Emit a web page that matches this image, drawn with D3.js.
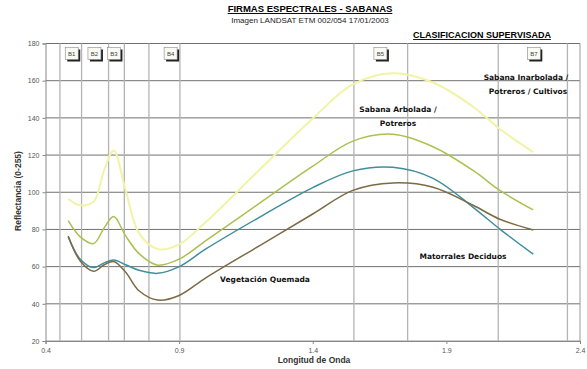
<!DOCTYPE html>
<html>
<head>
<meta charset="utf-8">
<script src="https://cdn.jsdelivr.net/npm/d3@7"></script>
<style>
  body { margin: 0; background: #fff; }
  svg { display: block; }
  .tick text { font-family: "Liberation Sans", Arial, sans-serif; font-size: 7px; fill: #555; }
  .lbl { font-family: "DejaVu Sans", sans-serif; font-size: 7.5px; font-weight: bold; fill: #111; }
</style>
</head>
<body>
<div id="chart"></div>
<script>
// longitudes de onda (um) comunes a todas las curvas
const wavelengths = [0.485, 0.53, 0.58, 0.62, 0.655, 0.70, 0.75, 0.82, 0.90, 1.0, 1.2, 1.4, 1.55, 1.7, 1.85, 2.0, 2.1, 2.225];

// reflectancia (0-255) de cada clase
const sabanaInarbolada = [96.4, 93, 95, 112, 122.5, 101, 78, 69.4, 72, 84, 112, 139.7, 158, 164, 159, 146, 134, 121.6];
const sabanaArbolada   = [84.7, 76, 72.4, 81, 86.9, 76.5, 67, 60.8, 64, 74, 94, 114, 127.5, 131.2, 124.5, 111.7, 101, 90.5];
const matorrales       = [76, 64, 59.5, 62, 63.6, 61, 58, 56.4, 60, 69.5, 86.5, 102.5, 111.5, 113.4, 107.5, 91.9, 80.2, 66.7];
const vegQuemada       = [76.5, 63, 57.5, 61, 62.7, 57, 47, 42, 44.5, 54, 71.2, 88.3, 101, 105, 102.7, 93, 85.5, 79.7];

const seriesNames  = ["Sabana Inarbolada", "Sabana Arbolada", "Matorrales Deciduos", "Vegetación Quemada"];
const seriesColors = ["#f0f4a4", "#a9c14e", "#3f8f9b", "#7b6a42"];

// bandas Landsat: limites y etiquetas
const bandLines = [0.454, 0.535, 0.636, 0.695, 0.787, 0.903, 1.554, 1.755, 2.094, 2.353];
const bandNames = ["B1", "B2", "B3", "B4", "B5", "B7"];
const bandCenters = [0.5, 0.585, 0.658, 0.87, 1.655, 2.229];

const xTicks = [0.4, 0.9, 1.4, 1.9, 2.4];
const yTicks = [20, 40, 60, 80, 100, 120, 140, 160, 180];

const width = 587, height = 369;
const margin = { top: 43.5, right: 7, bottom: 28, left: 45.5 };

const svg = d3.select("#chart").append("svg")
  .attr("width", width)
  .attr("height", height);

const x = d3.scaleLinear().domain([0.4, 2.4]).range([margin.left, width - margin.right]);
const y = d3.scaleLinear().domain([20, 180]).range([height - margin.bottom, margin.top]);

// titulos
svg.append("text")
  .attr("x", 310).attr("y", 12)
  .attr("text-anchor", "middle")
  .style("font-family", "Liberation Sans, Arial, sans-serif")
  .style("font-size", "9.5px").style("font-weight", "bold")
  .style("text-decoration", "underline")
  .text("FIRMAS ESPECTRALES - SABANAS");

svg.append("text")
  .attr("x", 310).attr("y", 23)
  .attr("text-anchor", "middle")
  .style("font-family", "Liberation Sans, Arial, sans-serif")
  .style("font-size", "8px")
  .attr("fill", "#222")
  .text("Imagen LANDSAT ETM 002/054 17/01/2003");

svg.append("text")
  .attr("x", 482).attr("y", 38)
  .attr("text-anchor", "middle")
  .style("font-family", "Liberation Sans Narrow, Liberation Sans, Arial, sans-serif")
  .style("font-size", "9px").style("font-weight", "bold")
  .style("text-decoration", "underline")
  .text("CLASIFICACION SUPERVISADA");

// cuadricula horizontal
svg.append("g")
  .selectAll("line")
  .data(yTicks)
  .join("line")
  .attr("x1", x(0.4)).attr("x2", x(2.4))
  .attr("y1", d => y(d)).attr("y2", d => y(d))
  .attr("stroke", d => d === 20 ? "#999" : "#707070")
  .attr("stroke-width", 1);

// limites de bandas
svg.append("g")
  .selectAll("line")
  .data(bandLines)
  .join("line")
  .attr("x1", d => x(d)).attr("x2", d => x(d))
  .attr("y1", y(180)).attr("y2", y(20))
  .attr("stroke", "#b4b4b4")
  .attr("stroke-width", 1.3);

// borde derecho
svg.append("line")
  .attr("x1", x(2.4)).attr("x2", x(2.4))
  .attr("y1", y(180)).attr("y2", y(20))
  .attr("stroke", "#999");

// ejes
const xAxis = svg.append("g")
  .attr("transform", `translate(0,${y(20)})`)
  .call(d3.axisBottom(x).tickValues(xTicks).tickSize(3).tickFormat(d3.format(".1f")));
xAxis.select(".domain").attr("stroke", "#888");
xAxis.selectAll(".tick line").attr("stroke", "#888");
xAxis.selectAll(".tick text").attr("dy", "0.9em");

const yAxis = svg.append("g")
  .attr("transform", `translate(${x(0.4)},0)`)
  .call(d3.axisLeft(y).tickValues(yTicks).tickSize(3));
yAxis.select(".domain").attr("stroke", "#888");
yAxis.selectAll(".tick line").attr("stroke", "#888");

svg.append("text")
  .attr("x", 314).attr("y", 363)
  .attr("text-anchor", "middle")
  .style("font-family", "Liberation Sans, Arial, sans-serif")
  .style("font-size", "8.5px").style("font-weight", "bold")
  .attr("fill", "#333")
  .text("Longitud de Onda");

svg.append("text")
  .attr("transform", "translate(21,191) rotate(-90)")
  .attr("text-anchor", "middle")
  .style("font-family", "Liberation Sans, Arial, sans-serif")
  .style("font-size", "8.5px").style("font-weight", "bold")
  .attr("fill", "#333")
  .text("Reflectancia (0-255)");

// curvas suavizadas
const allSeries = [sabanaInarbolada, sabanaArbolada, matorrales, vegQuemada];
const line = d3.line()
  .x((d, i) => x(wavelengths[i]))
  .y(d => y(d))
  .curve(d3.curveCatmullRom.alpha(0.5));

svg.append("g")
  .selectAll("path")
  .data(allSeries)
  .join("path")
  .attr("d", line)
  .attr("fill", "none")
  .attr("stroke", (d, i) => seriesColors[i])
  .attr("stroke-width", (d, i) => i === 0 ? 2 : 1.5)
  .append("title").text((d, i) => seriesNames[i]);

// cajas de bandas
const bandG = svg.append("g")
  .selectAll("g")
  .data(bandNames)
  .join("g")
  .attr("transform", (d, i) => `translate(${x(bandCenters[i])},${y(180) + 10})`);

bandG.append("rect")
  .attr("x", -5).attr("y", -4)
  .attr("width", 13).attr("height", 12)
  .attr("fill", "#222");
bandG.append("rect")
  .attr("x", -7).attr("y", -6)
  .attr("width", 13).attr("height", 12)
  .attr("fill", "#fafaf5")
  .attr("stroke", "#888").attr("stroke-width", 0.6);
bandG.append("text")
  .attr("x", -0.5).attr("y", 2.5)
  .attr("text-anchor", "middle")
  .style("font-family", "Liberation Sans, Arial, sans-serif")
  .style("font-size", "6px")
  .attr("fill", "#444")
  .text(d => d);

// etiquetas de las clases
const labels = [
  { t: "Sabana Inarbolada /", x: 526, y: 80 },
  { t: "Potreros / Cultivos", x: 528, y: 94 },
  { t: "Sabana Arbolada /", x: 398, y: 112 },
  { t: "Potreros", x: 398, y: 126 },
  { t: "Vegetación Quemada", x: 265, y: 282 },
  { t: "Matorrales Deciduos", x: 463, y: 259 }
];
svg.append("g")
  .selectAll("text")
  .data(labels)
  .join("text")
  .attr("class", "lbl")
  .attr("x", d => d.x).attr("y", d => d.y)
  .attr("text-anchor", "middle")
  .text(d => d.t);
</script>
</body>
</html>
